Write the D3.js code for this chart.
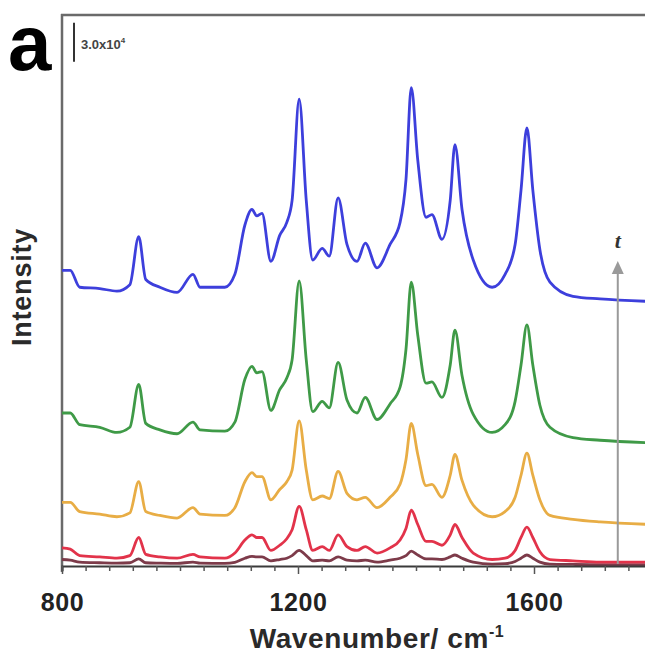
<!DOCTYPE html>
<html>
<head>
<meta charset="utf-8">
<script src="https://cdn.jsdelivr.net/npm/d3@7"></script>
<style>
  body { margin: 0; background: #fff; }
  text { font-family: "Liberation Sans", Arial, sans-serif; font-weight: bold; }
</style>
</head>
<body>
<script>
// DATA (intensity in units of 1e4 counts, spectra already offset)

var wavenumbers = [800, 814, 830, 864, 893, 915, 930, 942, 966, 995, 1022, 1034, 1076, 1093, 1110,
  1122, 1130, 1139, 1154, 1169, 1181, 1190, 1202, 1214, 1225, 1241, 1253, 1268, 1283, 1300,
  1314, 1334, 1356, 1373, 1383, 1392, 1403, 1417, 1427, 1444, 1458, 1466, 1478, 1497, 1529,
  1551, 1568, 1578, 1588, 1598, 1610, 1627, 1666, 1712, 1800];

var blueSpec = [22.8, 22.8, 21.5, 21.4, 21.2, 21.7, 25.4, 22.1, 21.5, 21.1, 22.5, 21.5, 21.5, 22.5, 26.3,
  27.5, 27.0, 27.2, 23.5, 25.5, 26.5, 28.2, 36.0, 28.2, 23.6, 24.5, 23.9, 28.4, 24.8, 23.5,
  24.9, 23.0, 24.8, 26.5, 29.8, 36.9, 31.3, 26.9, 27.1, 25.2, 28.2, 32.5, 27.5, 23.6, 21.5,
  22.5, 24.8, 29.0, 33.8, 29.0, 24.4, 21.9, 20.8, 20.6, 20.4];

var greenSpec = [11.8, 11.8, 10.9, 10.7, 10.3, 10.7, 14.0, 11.0, 10.5, 10.2, 11.1, 10.5, 10.4, 11.1, 14.4,
  15.4, 14.9, 15.0, 12.0, 13.6, 14.5, 15.9, 22.0, 15.9, 11.9, 12.7, 12.2, 15.7, 12.8, 11.8,
  13.0, 11.3, 12.5, 13.8, 16.7, 21.9, 17.8, 14.1, 14.2, 13.0, 15.5, 18.2, 14.7, 11.7, 10.3,
  10.9, 12.7, 15.5, 18.6, 15.5, 12.4, 10.7, 9.9, 9.7, 9.5];

var orangeSpec = [4.9, 4.9, 4.2, 4.0, 3.8, 4.1, 6.5, 4.2, 3.9, 3.7, 4.5, 4.0, 3.9, 4.5, 6.5,
  7.2, 6.9, 6.9, 5.1, 5.9, 6.5, 7.4, 11.2, 7.4, 5.1, 5.4, 5.2, 7.3, 5.6, 5.1,
  5.3, 4.5, 5.3, 6.3, 8.2, 11.0, 8.6, 6.2, 6.3, 5.3, 7.0, 8.6, 6.6, 4.7, 3.8,
  4.2, 5.3, 7.0, 8.7, 7.0, 5.1, 3.9, 3.6, 3.4, 3.2];

var redSpec = [1.4, 1.3, 0.8, 0.7, 0.6, 0.8, 2.2, 0.9, 0.7, 0.6, 0.9, 0.7, 0.6, 1.0, 2.0,
  2.4, 2.2, 2.2, 1.2, 1.6, 2.1, 2.8, 4.6, 2.8, 1.2, 1.5, 1.2, 2.4, 1.5, 1.2,
  1.5, 1.0, 1.4, 2.0, 2.9, 4.3, 3.2, 1.9, 1.9, 1.6, 2.4, 3.2, 2.2, 1.0, 0.5,
  0.6, 1.2, 2.2, 3.0, 2.2, 1.1, 0.5, 0.4, 0.3, 0.3];

var brownSpec = [0.5, 0.45, 0.3, 0.25, 0.22, 0.25, 0.55, 0.25, 0.22, 0.2, 0.3, 0.22, 0.2, 0.28, 0.6,
  0.75, 0.7, 0.7, 0.4, 0.5, 0.6, 0.8, 1.2, 0.8, 0.4, 0.45, 0.4, 0.7, 0.45, 0.4,
  0.45, 0.3, 0.45, 0.6, 0.8, 1.15, 0.85, 0.55, 0.55, 0.5, 0.7, 0.85, 0.6, 0.3, 0.15,
  0.18, 0.35, 0.6, 0.85, 0.6, 0.3, 0.15, 0.12, 0.1, 0.1];

var seriesNames = ["brown", "red", "orange", "green", "blue"];
var seriesColors = ["#7d3b4a", "#e2334a", "#e8ad45", "#3f9a47", "#3d3fdc"];
var seriesValues = [brownSpec, redSpec, orangeSpec, greenSpec, blueSpec];

var xTicks = [800, 1200, 1600];
var scaleBarValue = 3.0;   // 3.0x10^4 counts
var arrowPos = 1742;

// SETUP

var W = 645, H = 654;
var svg = d3.select("body").append("svg").attr("width", W).attr("height", H);

var x = d3.scaleLinear().domain([800, 1800]).range([62, 652]);
var y = d3.scaleLinear().domain([0, 42.5]).range([566, 15]);

// frame (left + top, right side is cropped)
svg.append("line").attr("x1", 62).attr("x2", 62).attr("y1", 14).attr("y2", 572)
  .attr("stroke", "#6a6a6a").attr("stroke-width", 2.5);
svg.append("line").attr("x1", 61).attr("x2", W).attr("y1", 15).attr("y2", 15)
  .attr("stroke", "#6a6a6a").attr("stroke-width", 2.5);

// spectra
var line = d3.line()
  .x(function (d) { return x(d[0]); })
  .y(function (d) { return y(d[1]); })
  .curve(d3.curveMonotoneX);

svg.append("g").selectAll("path")
  .data(seriesValues)
  .enter().append("path")
  .attr("d", function (vals) { return line(vals.map(function (v, i) { return [wavenumbers[i], v]; })); })
  .attr("fill", "none")
  .attr("stroke", function (d, i) { return seriesColors[i]; })
  .attr("stroke-width", 2.8)
  .attr("stroke-linejoin", "round");

// x axis
var xAxis = svg.append("g")
  .attr("transform", "translate(0," + y(0) + ")")
  .call(d3.axisBottom(x)
    .tickValues(d3.range(800, 1801, 40))
    .tickSize(5)
    .tickFormat(function (d) { return xTicks.indexOf(d) >= 0 ? d : ""; }));

xAxis.select(".domain").attr("stroke", "#3a3a3a").attr("stroke-width", 2);
xAxis.selectAll(".tick line").attr("stroke", "#555").attr("stroke-width", 1.5)
  .attr("y2", function (d) { return xTicks.indexOf(d) >= 0 ? 8 : 5; });
xAxis.selectAll(".tick text")
  .attr("y", 45).attr("dy", null)
  .attr("fill", "#222")
  .style("font-size", "25px")
  .style("letter-spacing", "0.6px");

// axis titles
var xt = svg.append("text")
  .attr("x", 377).attr("y", 648)
  .attr("text-anchor", "middle")
  .attr("fill", "#2a2a2a")
  .style("font-size", "28px")
  .style("letter-spacing", "0.6px")
  .text("Wavenumber/ cm");
xt.append("tspan").attr("dy", -11).style("font-size", "16px").text("-1");

svg.append("text")
  .attr("transform", "translate(31,287) rotate(-90)")
  .attr("text-anchor", "middle")
  .attr("fill", "#2a2a2a")
  .style("font-size", "27px")
  .style("letter-spacing", "0.8px")
  .text("Intensity");

// panel letter
svg.append("text")
  .attr("x", 8).attr("y", 70)
  .attr("fill", "#000")
  .style("font-size", "78px")
  .text("a");

// scale bar
svg.append("line")
  .attr("x1", 74).attr("x2", 74)
  .attr("y1", y(42.5 - 0.6)).attr("y2", y(42.5 - 0.6 - scaleBarValue))
  .attr("stroke", "#333").attr("stroke-width", 2);
var sb = svg.append("text")
  .attr("x", 81).attr("y", 49)
  .attr("fill", "#444")
  .style("font-size", "13px")
  .text("3.0x10");
sb.append("tspan").attr("dy", -6).style("font-size", "8px").text("4");

// time arrow
svg.append("line")
  .attr("x1", x(arrowPos)).attr("x2", x(arrowPos))
  .attr("y1", y(0) - 2).attr("y2", 272)
  .attr("stroke", "#9a9a9a").attr("stroke-width", 2);
svg.append("path")
  .attr("d", "M" + (x(arrowPos) - 6) + ",274 L" + x(arrowPos) + ",261 L" + (x(arrowPos) + 6) + ",274 Z")
  .attr("fill", "#9a9a9a");
svg.append("text")
  .attr("x", x(arrowPos)).attr("y", 248)
  .attr("text-anchor", "middle")
  .attr("fill", "#333")
  .style("font-family", "'Liberation Serif', serif")
  .style("font-style", "italic")
  .style("font-size", "22px")
  .text("t");
</script>
</body>
</html>
